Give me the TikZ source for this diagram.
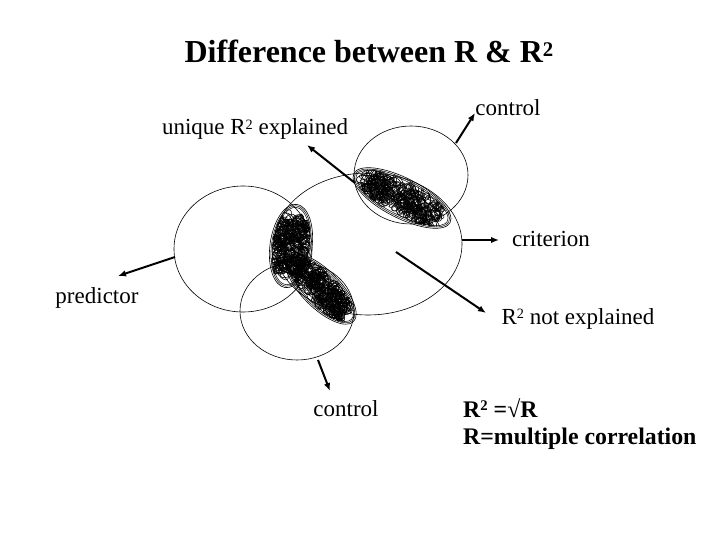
\documentclass[tikz,border=0pt]{standalone}
\usepackage{fontspec}
\setmainfont{Liberation Serif}
\usetikzlibrary{arrows.meta}
\tikzset{
  ring/.style={draw, line width=0.6pt},
  pointer/.style={line width=2pt, -{Latex[length=8pt,width=6.5pt]}},
  lbl/.style={font=\fontsize{23}{26}\selectfont, inner sep=0pt, anchor=base},
  lblb/.style={font=\bfseries\fontsize{23.8}{27}\selectfont, inner sep=0pt, anchor=base west},
}
\newcommand\sqtwo{\raisebox{0.26em}{\fontsize{0.62em}{0.7em}\selectfont 2}}
\newcommand\lensfill[6]{%
 \begin{scope}[shift={(#1,#2)},rotate=#5]
  \pgfmathsetseed{#6}
  \draw[line width=0.6pt] (0,0) ellipse ({#3} and {#4});
  \draw[line width=0.5pt] (0,0) ellipse ({#3-1.5} and {#4-1.5});
  \draw[line width=0.5pt] (0,0) ellipse ({#3-3} and {#4-3});
  \clip (0,0) ellipse ({#3-2} and {#4-2});
  \foreach \k in {1,...,260}{
   \pgfmathsetmacro\px{rand*#3*0.75}
   \pgfmathsetmacro\py{rand*#4*0.65}
   \pgfmathsetmacro\rx{2+abs(rand)*8}
   \pgfmathsetmacro\ry{1+abs(rand)*4}
   \pgfmathsetmacro\rt{rand*80}
   \draw[line width=0.55pt,rotate around={\rt:(\px,\py)}] (\px,\py) ellipse ({\rx} and {\ry});
  }
 \end{scope}}
\begin{document}
\begin{tikzpicture}[x=1pt,y=-1pt]
\useasboundingbox (0,0) rectangle (720,540);
% circles
\draw[ring] (243,249) ellipse (69 and 63);
\draw[ring] (297,311) ellipse (57 and 49);
\draw[ring] (368,244) ellipse (94 and 71);
\draw[ring] (411,175) ellipse (57 and 49);
% shaded overlaps
\lensfill{402}{198}{54}{20}{-27}{11}
\lensfill{291}{246}{21}{42}{-8}{23}
\lensfill{321}{289}{46}{19}{-45}{37}
% title
\node[font=\bfseries\fontsize{32}{36}\selectfont, inner sep=0pt, anchor=base] (title) at (369,63) {Difference between R \& R\raisebox{0.2em}{\fontsize{0.65em}{0.7em}\selectfont 2}};
% labels
\node[lbl] (unique) at (255,135) {unique R\sqtwo{} explained};
\node[lbl] (ctop) at (508,116) {control};
\node[lbl] (crit) at (551,247) {criterion};
\node[lbl] (pred) at (97,303) {predictor};
\node[lbl] (notexp) at (578,324) {R\sqtwo{} not explained};
\node[lbl] (cbot) at (346,416) {control};
\node[lblb] (eq) at (463,417) {R\sqtwo{} =√R};
\node[lblb] (mult) at (463,444) {R=multiple correlation};
% arrow endpoints
\coordinate (a1s) at (355,183); \coordinate (a1e) at (307,145);
\coordinate (a2s) at (456,143); \coordinate (a2e) at (475,113);
\coordinate (a3s) at (462,240); \coordinate (a3e) at (499,240);
\coordinate (a4s) at (396,252); \coordinate (a4e) at (486,313);
\coordinate (a5s) at (175,257); \coordinate (a5e) at (118,276);
\coordinate (a6s) at (318,360); \coordinate (a6e) at (330,391);
\draw[pointer] (a1s) -- (a1e);
\draw[pointer] (a2s) -- (a2e);
\draw[pointer] (a3s) -- (a3e);
\draw[pointer] (a4s) -- (a4e);
\draw[pointer] (a5s) -- (a5e);
\draw[pointer] (a6s) -- (a6e);
\end{tikzpicture}
\end{document}
